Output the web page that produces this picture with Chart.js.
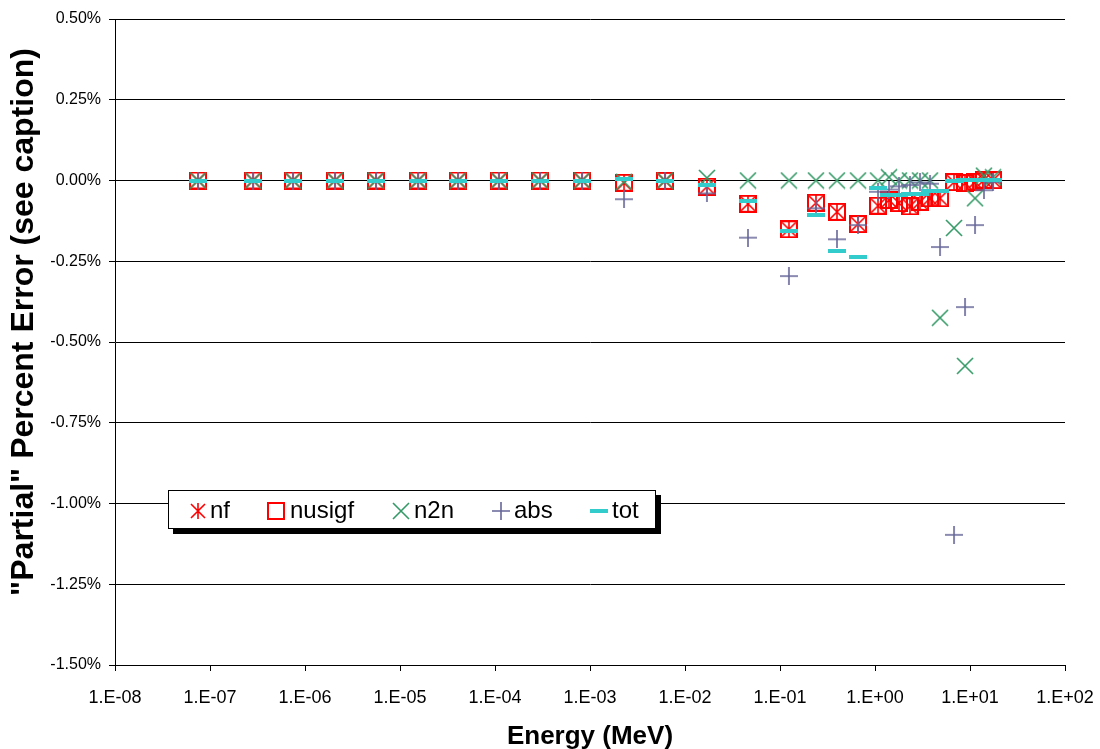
<!DOCTYPE html>
<html>
<head>
<meta charset="utf-8">
<title>Partial percent error vs energy</title>
<script src="https://cdn.jsdelivr.net/npm/chart.js@4.4.1/dist/chart.umd.min.js"></script>
<style>
  body { margin: 0; background: #fff; }
  #wrap { position: relative; width: 1100px; height: 749px; }
  #legend {
    position: absolute; left: 168px; top: 490px; width: 486px; height: 37px;
    border: 1px solid #000; background: #fff; box-shadow: 5px 5px 0 #000;
    font: 24px "Liberation Sans", Arial, sans-serif; color: #000;
  }
  #legend canvas { position: absolute; }
  #legend span { position: absolute; top: 7px; line-height: 24px; }
</style>
</head>
<body>
<div id="wrap">
  <canvas id="errChart" width="1100" height="749"></canvas>
  <div id="legend"></div>
</div>
<script>
'use strict'

// energy group points (MeV)
const energy = [7.48e-8, 2.84e-7, 7.48e-7, 2.07e-6, 5.59e-6, 1.55e-5, 4.08e-5, 1.10e-4, 2.98e-4, 8.24e-4,
    2.28e-3, 6.16e-3, 1.70e-2, 4.60e-2, 0.124, 0.239, 0.398, 0.663, 1.076, 1.404,
    1.789, 2.335, 2.977, 3.793, 4.833, 6.786, 8.86, 11.29, 14.04, 17.47];

// partial percent errors (%)
const nf = [0, 0, 0, 0, 0, 0, 0, 0, 0, 0,
    -0.007, -0.001, -0.019, -0.072, -0.151, -0.069, -0.097, -0.135, -0.078, -0.060,
    -0.070, -0.080, -0.066, -0.055, -0.055, -0.005, -0.008, -0.004, 0.002, 0.001];
const nusigf = [0, 0, 0, 0, 0, 0, 0, 0, 0, 0,
    -0.007, -0.001, -0.019, -0.072, -0.151, -0.069, -0.097, -0.135, -0.078, -0.060,
    -0.070, -0.080, -0.066, -0.055, -0.055, -0.005, -0.008, -0.004, 0.002, 0.001];
const n2n = [0, 0, 0, 0, 0, 0, 0, 0, 0, 0,
    -0.004, 0, 0.008, 0, 0, 0, 0, 0, 0, 0.010,
    0, 0, 0, 0, -0.425, -0.147, -0.574, -0.055, 0.015, 0.010];
const abs = [0, 0, 0, 0, 0, 0, 0, 0, 0, 0,
    -0.058, -0.003, -0.040, -0.177, -0.296, -0.086, -0.182, -0.138, -0.035, -0.028,
    -0.018, -0.014, -0.006, -0.010, -0.206, -1.097, -0.392, -0.138, -0.030, -0.005];
const tot = [0, 0, 0, 0, 0, 0, 0, 0, 0, 0,
    0.006, 0, -0.014, -0.064, -0.155, -0.107, -0.217, -0.238, -0.022, -0.045,
    -0.045, -0.043, -0.041, -0.033, -0.033, 0, 0.001, 0.002, 0.003, 0.003];

const xTicks = [1e-8, 1e-7, 1e-6, 1e-5, 1e-4, 1e-3, 1e-2, 1e-1, 1e0, 1e1, 1e2];
const xTickLabels = ['1.E-08', '1.E-07', '1.E-06', '1.E-05', '1.E-04', '1.E-03',
    '1.E-02', '1.E-01', '1.E+00', '1.E+01', '1.E+02'];
const yTicks = [-1.5, -1.25, -1, -0.75, -0.5, -0.25, 0, 0.25, 0.5];
const yTickLabels = ['-1.50%', '-1.25%', '-1.00%', '-0.75%', '-0.50%', '-0.25%', '0.00%', '0.25%', '0.50%'];

const yTitle = '"Partial" Percent Error (see caption)';
const FONT = '"Liberation Sans", Arial, sans-serif';

/*
    Markers
*/

function makeMarker(w, h, draw) {
    let c = document.createElement('canvas');
    c.width = w;
    c.height = h;
    draw(c.getContext('2d'));
    return c;
}
function lines(color, width, segs) {
    return function (ctx) {
        ctx.strokeStyle = color;
        ctx.lineWidth = width;
        ctx.beginPath();
        segs.forEach(function (s) {
            ctx.moveTo(s[0], s[1]);
            ctx.lineTo(s[2], s[3]);
        });
        ctx.stroke();
    };
}
const drawNf = lines('#ff0000', 1.6, [[2, 2, 16, 16], [16, 2, 2, 16], [9, 1, 9, 17]]);
const drawSquare = function (ctx) {
    ctx.strokeStyle = '#ff0000';
    ctx.lineWidth = 2;
    ctx.strokeRect(1, 1, 16, 16);
};
const drawX = lines('#339966', 1.6, [[1, 1, 17, 17], [17, 1, 1, 17]]);
const drawPlus = lines('#666699', 1.6, [[0, 9, 18, 9], [9, 0, 9, 18]]);
const drawDash = function (ctx) {
    ctx.fillStyle = '#33cccc';
    ctx.fillRect(0, 0, 18, 4);
};

const series = [
    { label: 'nf', values: nf, draw: drawNf, h: 18, textX: 41, markX: 29 },
    { label: 'nusigf', values: nusigf, draw: drawSquare, h: 18, textX: 121, markX: 107 },
    { label: 'n2n', values: n2n, draw: drawX, h: 18, textX: 245, markX: 232 },
    { label: 'abs', values: abs, draw: drawPlus, h: 18, textX: 345, markX: 332 },
    { label: 'tot', values: tot, draw: drawDash, h: 4, textX: 443, markX: 430 }
];

/*
    Legend
*/

let legend = document.getElementById('legend');
series.forEach(function (s) {
    let m = makeMarker(18, s.h, s.draw);
    m.style.left = (s.markX - 9) + 'px';
    m.style.top = (20 - s.h / 2) + 'px';
    legend.appendChild(m);
    let t = document.createElement('span');
    t.textContent = s.label;
    t.style.left = s.textX + 'px';
    legend.appendChild(t);
});

// y axis title, drawn by hand so it can sit where the original has it
const yTitlePlugin = {
    id: 'yTitle',
    afterDraw: function (chart) {
        let c = chart.ctx;
        c.save();
        c.translate(24, 322);
        c.rotate(-Math.PI / 2);
        c.font = 'bold 32px ' + FONT;
        c.fillStyle = '#000';
        c.textAlign = 'center';
        c.textBaseline = 'middle';
        c.fillText(yTitle, 0, 0);
        c.restore();
    }
};

/*
    Chart
*/

let ctx = document.getElementById('errChart');
let errChart = new Chart(ctx, {
    type: 'scatter',
    data: {
        datasets: series.map(function (s, i) {
            return {
                label: s.label,
                data: energy.map(function (e, k) { return { x: e, y: s.values[k] }; }),
                pointStyle: makeMarker(18, s.h, s.draw),
                pointRadius: 9,
                showLine: false,
                order: series.length - i
            };
        })
    },
    plugins: [yTitlePlugin],
    options: {
        responsive: false,
        animation: false,
        events: [],
        layout: { padding: { top: 19, right: 35, left: 0, bottom: 0 } },
        plugins: {
            legend: { display: false },
            tooltip: { enabled: false }
        },
        scales: {
            x: {
                type: 'logarithmic',
                min: 1e-8,
                max: 1e2,
                afterBuildTicks: function (scale) {
                    scale.ticks = xTicks.map(function (v) { return { value: v, major: true }; });
                },
                afterFit: function (scale) {
                    scale.height = 84;
                    scale.paddingLeft = 0;
                    scale.paddingRight = 0;
                },
                ticks: {
                    autoSkip: false,
                    maxRotation: 0,
                    padding: 16,
                    color: '#000',
                    font: { family: FONT, size: 18 },
                    callback: function (v) { return xTickLabels[xTicks.indexOf(v)]; }
                },
                grid: { drawOnChartArea: false, drawTicks: true, tickLength: 6, color: '#000' },
                border: { color: '#000', width: 1 },
                title: {
                    display: true,
                    text: 'Energy (MeV)',
                    color: '#000',
                    font: { family: FONT, size: 26, weight: 'bold' },
                    padding: { top: 0, bottom: -3 }
                }
            },
            y: {
                min: -1.5,
                max: 0.5,
                afterBuildTicks: function (scale) {
                    scale.ticks = yTicks.map(function (v) { return { value: v }; });
                },
                afterFit: function (scale) { scale.width = 115; },
                ticks: {
                    padding: 8,
                    color: '#000',
                    font: { family: FONT, size: 16 },
                    callback: function (v) { return yTickLabels[yTicks.indexOf(v)]; }
                },
                grid: { color: '#000', lineWidth: 1, drawTicks: true, tickLength: 6 },
                border: { color: '#000', width: 1 }
            }
        }
    }
});
</script>
</body>
</html>
